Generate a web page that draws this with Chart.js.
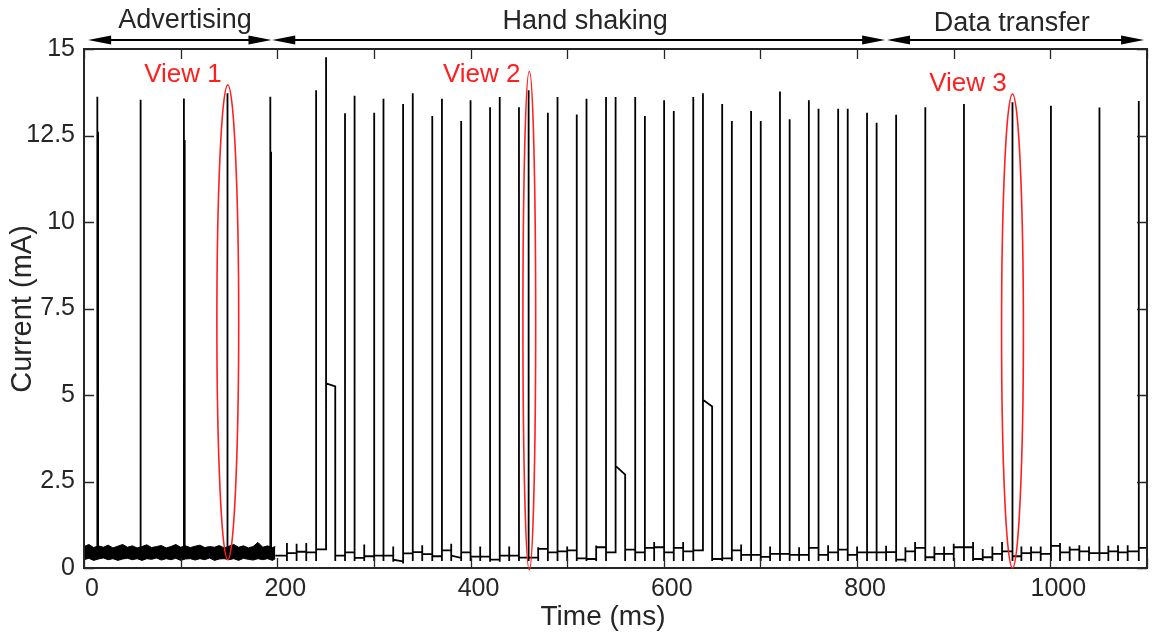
<!DOCTYPE html>
<html>
<head>
<meta charset="utf-8">
<script src="https://cdn.jsdelivr.net/npm/chart.js@4.4.1/dist/chart.umd.min.js"></script>
<style>
  html, body { margin: 0; padding: 0; background: #fff; }
  #wrap { width: 1153px; height: 636px; }
</style>
</head>
<body>
<div id="wrap"><canvas id="grafico" width="1153" height="636"></canvas></div>
<script>
// Rótulos dos eixos
const xTickLabels = ['0', '200', '400', '600', '800', '1000'];
const yTickLabels = ['0', '2.5', '5', '7.5', '10', '12.5', '15'];

// Advertising: picos (ms) e alturas (mA)
const advTimes = [13.8, 58.1, 103.4, 148.0, 192.8];
const advPeaks = [13.62, 13.53, 13.57, 13.72, 13.62];
const advSecondPeaks = [12.61, 12.52, 12.37, 12.52, 12.03];
const advBase = 0.42;

// Advertising: envelope do ruido de fundo
const noiseTimes = [0, 5, 10, 15, 20, 25, 30, 35, 40, 45, 50, 55, 60, 65, 70, 75, 80, 85, 90, 95,
  100, 105, 110, 115, 120, 125, 130, 135, 140, 145, 150, 155, 160, 165, 170, 175, 180, 185, 190, 195, 198];
const noiseHigh = [0.62, 0.68, 0.59, 0.64, 0.6, 0.66, 0.58, 0.63, 0.68, 0.6, 0.64, 0.58, 0.62, 0.67, 0.59, 0.62, 0.65, 0.58, 0.62, 0.68,
  0.6, 0.64, 0.59, 0.63, 0.66, 0.59, 0.62, 0.6, 0.65, 0.58, 0.63, 0.68, 0.6, 0.64, 0.58, 0.62, 0.74, 0.6, 0.64, 0.59, 0.62];
const noiseLow = [0.24, 0.28, 0.22, 0.26, 0.29, 0.24, 0.27, 0.22, 0.26, 0.28, 0.24, 0.27, 0.22, 0.27, 0.25, 0.29, 0.23, 0.27, 0.24, 0.28,
  0.22, 0.26, 0.27, 0.23, 0.27, 0.24, 0.29, 0.22, 0.26, 0.27, 0.24, 0.27, 0.22, 0.28, 0.25, 0.23, 0.27, 0.24, 0.27, 0.22, 0.27];

// Hand shaking + data transfer: eventos (ms), pico (mA, null = so desce), nivel depois (mA)
const startLevel = 0.355;
const eventTimes = [
  210, 220, 230, 240.2, 250.5, 260, 270.1, 280, 290, 300.3,
  309.9, 320, 330.2, 340.2, 350, 360.4, 370.4, 380, 390.3, 400,
  410, 420.2, 430.2, 440, 450.1, 460.1, 470, 480, 490, 500,
  509.9, 520, 530, 540.2, 550.1, 560, 570.4, 580.4, 590, 600.3,
  610.3, 620, 630.5, 640.5, 650, 660.4, 670.4, 680, 690.3, 700.3,
  710, 720.2, 730.2, 740, 750.1, 760.1, 770, 780.4, 790.3, 800,
  810.3, 820.2, 830, 840.4, 850, 860, 870.6, 880, 890, 900,
  910.6, 920, 930, 940, 950, 960.8, 970, 980, 990, 1000.6,
  1010, 1020, 1030, 1040, 1050.8, 1060, 1070, 1080, 1091.5];
const eventPeaks = [
  0.72, 0.7, 0.72, 13.81, 14.76, null, 13.14, 13.65, 0.68, 13.16,
  13.56, 0.62, 13.41, 13.72, 0.66, 13.06, 13.56, 0.7, 12.92, 13.52,
  0.62, 13.32, 13.61, 0.62, 13.32, 13.81, 0.6, 13.16, 13.61, 0.62,
  13.11, 13.56, 0.65, 13.61, 13.61, null, 13.61, 13.06, 0.75, 13.52,
  13.21, 0.75, 13.61, 13.72, null, 13.41, 12.92, 0.68, 13.21, 12.92,
  0.62, 13.77, 12.97, 0.6, 13.52, 13.27, 0.66, 13.27, 13.27, 0.62,
  13.16, 12.87, 0.64, 13.1, 0.6, 0.75, 13.32, 0.62, 0.62, 0.7,
  13.41, 0.75, 0.55, 0.62, 0.75, 13.46, 0.62, 0.62, 0.62, 13.36,
  0.72, 0.62, 0.66, 0.62, 13.31, 0.64, 0.66, 0.66, 13.5];
const levelAfter = [
  0.43, 0.47, 0.45, 0.54, [5.34, 5.25], 0.36, 0.45, 0.29, 0.34, 0.355,
  0.355, [0.24, 0.19], 0.42, 0.46, 0.4, 0.34, 0.51, [0.36, 0.29], 0.45, 0.33,
  0.33, 0.24, 0.355, 0.355, 0.3, 0.3, 0.55, 0.45, 0.48, 0.51,
  0.28, 0.26, 0.6, 0.45, [2.95, 2.7], 0.53, 0.45, 0.58, 0.6, 0.45,
  0.58, 0.48, 0.51, [4.86, 4.67], 0.26, 0.28, 0.51, 0.38, 0.38, 0.32,
  0.41, 0.41, 0.38, 0.38, 0.58, 0.38, 0.45, 0.53, 0.38, 0.45,
  0.45, 0.45, 0.46, 0.24, 0.48, 0.58, 0.31, 0.41, 0.41, 0.6,
  0.6, 0.26, 0.31, 0.41, 0.48, 0.34, 0.43, 0.45, 0.41, 0.64,
  0.45, 0.53, 0.48, 0.43, 0.43, 0.48, 0.45, 0.48, 0.58];

// Fases e marcações "View"
const phaseNames = ['Advertising', 'Hand shaking', 'Data transfer'];
const phaseStart = [4.3, 194.8, 831];
const phaseEnd = [194, 829, 1097];
const viewNames = ['View 1', 'View 2', 'View 3'];
const viewCenterMs = [148.8, 460.8, 960.8];
const viewCenterMa = [7.1, 7.15, 6.85];
const viewHalfMs = [11.3, 6.6, 11.3];
const viewHalfMa = [6.86, 7.2, 6.85];

// posições dos textos (em unidades do gráfico)
const layoutTextos = {
  phaseLabel: [{ x: 104.6, y: 15.62 }, { x: 518.6, y: 15.58 }, { x: 960, y: 15.52 }],
  arrowY: 15.26,
  viewLabel: [{ x: 102.4, y: 14.05 }, { x: 411.6, y: 14.05 }, { x: 914.7, y: 13.8 }]
};

const FONTE = '"Liberation Sans", Arial, Helvetica, sans-serif';
const COR_TEXTO = '#262626';

function montarTraco() {
  const pts = [];
  advTimes.forEach((t, i) => {
    const t2 = t + 0.8;
    pts.push({ x: t, y: advBase }, { x: t, y: advPeaks[i] }, { x: t, y: advBase },
      { x: t2, y: advBase }, { x: t2, y: advSecondPeaks[i] }, { x: t2, y: advBase },
      { x: t2, y: null });
  });
  let nivel = startLevel;
  pts.push({ x: 198, y: nivel });
  eventTimes.forEach((t, i) => {
    const prox = levelAfter[i];
    const ini = Array.isArray(prox) ? prox[0] : prox;
    const fim = Array.isArray(prox) ? prox[1] : prox;
    pts.push({ x: t, y: nivel });
    if (eventPeaks[i] !== null) pts.push({ x: t, y: eventPeaks[i] });
    if (ini < 1) pts.push({ x: t, y: Math.min(0.2, ini - 0.06, nivel - 0.06) });
    pts.push({ x: t, y: ini });
    const tNext = i + 1 < eventTimes.length ? eventTimes[i + 1] : 1100;
    pts.push({ x: tNext, y: fim });
    nivel = fim;
  });
  return pts;
}

function seta(ctx, x1, x2, y) {
  const L = 23, H = 4.5;
  ctx.beginPath();
  ctx.moveTo(x1 + L - 2, y); ctx.lineTo(x2 - L + 2, y);
  ctx.stroke();
  ctx.beginPath();
  ctx.moveTo(x1, y); ctx.lineTo(x1 + L, y - H); ctx.lineTo(x1 + L, y + H); ctx.closePath();
  ctx.moveTo(x2, y); ctx.lineTo(x2 - L, y - H); ctx.lineTo(x2 - L, y + H); ctx.closePath();
  ctx.fill();
}

const molduraPlugin = {
  id: 'moldura',
  afterDatasetsDraw(chart) {
    const { ctx, chartArea: a, scales: { x, y } } = chart;
    ctx.save();
    ctx.strokeStyle = COR_TEXTO;
    ctx.lineWidth = 1.3;
    const T = 10;
    x.ticks.forEach(tk => {
      const px = Math.round(x.getPixelForValue(tk.value)) + 0.5;
      ctx.beginPath();
      ctx.moveTo(px, a.bottom); ctx.lineTo(px, a.bottom - T);
      ctx.moveTo(px, a.top); ctx.lineTo(px, a.top + T);
      ctx.stroke();
    });
    y.ticks.forEach(tk => {
      const py = Math.round(y.getPixelForValue(tk.value)) + 0.5;
      ctx.beginPath();
      ctx.moveTo(a.left, py); ctx.lineTo(a.left + T, py);
      ctx.moveTo(a.right, py); ctx.lineTo(a.right - T, py);
      ctx.stroke();
    });
    ctx.lineWidth = 2;
    ctx.strokeRect(a.left, a.top, a.right - a.left, a.bottom - a.top);

    // elipses vermelhas
    ctx.strokeStyle = '#ff1f1f';
    ctx.lineWidth = 1.6;
    viewNames.forEach((n, i) => {
      const cx = x.getPixelForValue(viewCenterMs[i]);
      const cy = y.getPixelForValue(viewCenterMa[i]);
      const rx = x.getPixelForValue(viewCenterMs[i] + viewHalfMs[i]) - cx;
      const ry = cy - y.getPixelForValue(viewCenterMa[i] + viewHalfMa[i]);
      ctx.beginPath();
      ctx.ellipse(cx, cy, rx, ry, 0, 0, Math.PI * 2);
      ctx.stroke();
    });
    ctx.fillStyle = '#ff1f1f';
    ctx.font = '26px ' + FONTE;
    ctx.textAlign = 'center';
    ctx.textBaseline = 'alphabetic';
    viewNames.forEach((n, i) => {
      const p = layoutTextos.viewLabel[i];
      ctx.fillText(n, x.getPixelForValue(p.x), y.getPixelForValue(p.y));
    });

    // fases
    ctx.fillStyle = '#000';
    ctx.strokeStyle = '#000';
    ctx.lineWidth = 2;
    const ay = y.getPixelForValue(layoutTextos.arrowY);
    phaseNames.forEach((n, i) => {
      seta(ctx, x.getPixelForValue(phaseStart[i]), x.getPixelForValue(phaseEnd[i]), ay);
    });
    ctx.fillStyle = COR_TEXTO;
    ctx.font = '27px ' + FONTE;
    phaseNames.forEach((n, i) => {
      const p = layoutTextos.phaseLabel[i];
      ctx.fillText(n, x.getPixelForValue(p.x), y.getPixelForValue(p.y));
    });

    // títulos dos eixos
    ctx.font = '28px ' + FONTE;
    ctx.textBaseline = 'middle';
    ctx.fillText('Time (ms)', 603, 617);
    ctx.font = '29px ' + FONTE;
    ctx.translate(23, 309);
    ctx.rotate(-Math.PI / 2);
    ctx.fillText('Current (mA)', 0, 0);
    ctx.restore();
  }
};

Chart.defaults.font.family = FONTE;
Chart.defaults.color = COR_TEXTO;

new Chart(document.getElementById('grafico'), {
  type: 'line',
  data: {
    datasets: [
      {
        data: montarTraco(),
        borderColor: '#000',
        borderWidth: 1.8,
        pointRadius: 0,
        tension: 0,
        fill: false,
        spanGaps: false
      },
      {
        data: noiseTimes.map((t, i) => ({ x: t, y: noiseHigh[i] })),
        borderColor: '#000',
        backgroundColor: '#000',
        borderWidth: 1,
        pointRadius: 0,
        fill: '+1'
      },
      {
        data: noiseTimes.map((t, i) => ({ x: t, y: noiseLow[i] })),
        borderColor: '#000',
        borderWidth: 1,
        pointRadius: 0,
        fill: false
      }
    ]
  },
  options: {
    responsive: false,
    devicePixelRatio: 1,
    animation: false,
    layout: { padding: { top: 49, right: 2, left: 0, bottom: 0 } },
    plugins: { legend: { display: false }, tooltip: { enabled: false } },
    scales: {
      x: {
        type: 'linear', min: 0, max: 1100,
        grid: { display: false, drawTicks: false },
        border: { display: false },
        afterFit: s => { s.height = 68; },
        ticks: {
          stepSize: 100, autoSkip: false, maxRotation: 0, padding: 6, labelOffset: 8,
          font: { size: 25 },
          callback: v => xTickLabels.includes(String(v)) ? String(v) : ''
        }
      },
      y: {
        min: 0, max: 15,
        grid: { display: false, drawTicks: false },
        border: { display: false },
        afterFit: s => { s.width = 84; },
        ticks: {
          stepSize: 2.5, padding: 9,
          font: { size: 25 },
          callback: (v, i) => yTickLabels[i] ?? ''
        }
      }
    }
  },
  plugins: [molduraPlugin]
});
</script>
</body>
</html>
